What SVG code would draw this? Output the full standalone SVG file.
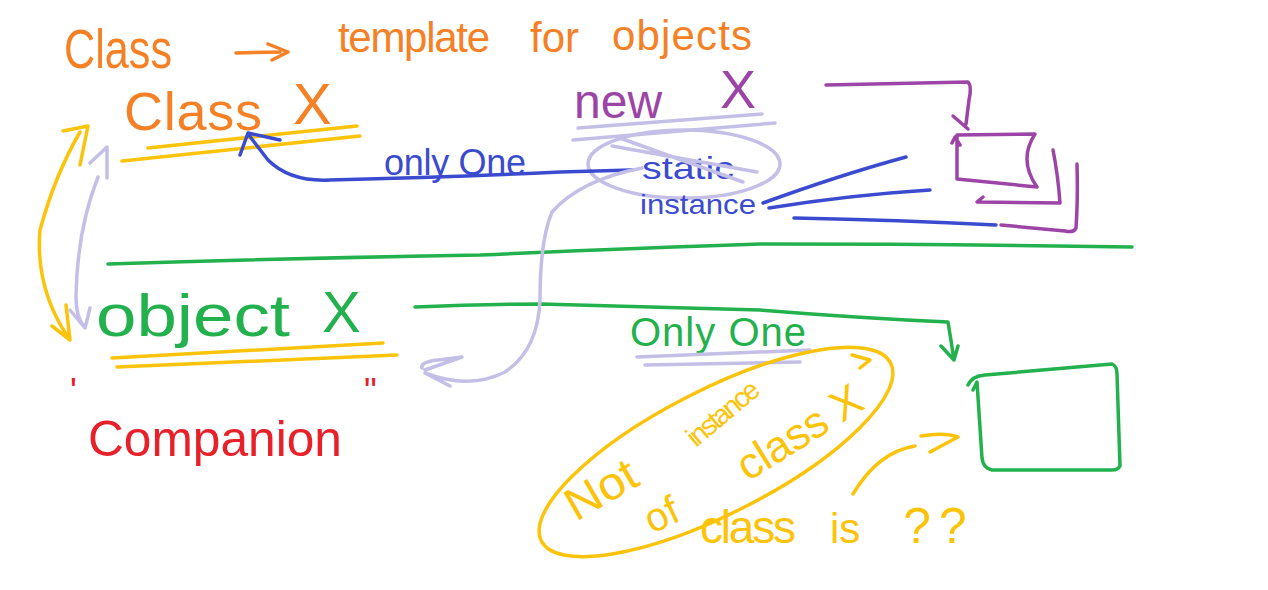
<svg xmlns="http://www.w3.org/2000/svg" width="1268" height="590" viewBox="0 0 1268 590">
<style>
text{font-family:"Liberation Sans","DejaVu Sans",sans-serif;}
.s{fill:none;stroke-linecap:round;stroke-linejoin:round;stroke-width:3.5}
.or{fill:#f58025}.ye{fill:#fcc30b}.bl{fill:#3b4bd0}.pu{fill:#9c45a6}.gr{fill:#22b14c}.re{fill:#e8202a}
.so{stroke:#f58025}.sy{stroke:#fcc30b}.sb{stroke:#3b4bd0}.sp{stroke:#9c45a6}.sg{stroke:#22b14c}.sl{stroke:#c4bfe6}
</style>
<rect width="1268" height="590" fill="#fff"/>

<g id="title">
<text class="or" x="64" y="68" font-size="56" textLength="108" lengthAdjust="spacingAndGlyphs">Class</text>
<path class="s so" d="M236 53 L280 52 M268 44 L288 52 L272 60"/>
<text class="or" x="338" y="52" font-size="42" textLength="152">template</text>
<text class="or" x="530" y="52" font-size="42">for</text>
<text class="or" x="612" y="50" font-size="42" textLength="140">objects</text>
</g>

<g id="class-x">
<text class="or" x="124" y="130" font-size="54" textLength="138">Class</text>
<text class="or" x="293" y="124" font-size="58">X</text>
<path class="s sy" d="M148 148 L357 126 M122 161 L360 136"/>
</g>

<g id="new-x">
<text class="pu" x="574" y="118" font-size="48">new</text>
<text class="pu" x="720" y="108" font-size="54">X</text>
<path class="s sl" d="M578 128 L762 114 M573 140 L775 123"/>
</g>

<g id="static-instance">
<ellipse class="s sl" cx="684" cy="164" rx="96" ry="34"/>
<text class="bl" x="642" y="179" font-size="32" textLength="92" lengthAdjust="spacingAndGlyphs">static</text>
<path class="s sl" d="M612 146 L757 172 M617 137 L743 182"/>
<text class="bl" x="640" y="214" font-size="28" textLength="116" lengthAdjust="spacingAndGlyphs">instance</text>
</g>

<g id="only-one-top">
<text class="bl" x="384" y="175" font-size="36" textLength="142">only One</text>
</g>

<g id="object-x">
<text class="gr" x="96" y="336" font-size="60" textLength="194" lengthAdjust="spacingAndGlyphs">object</text>
<text class="gr" x="322" y="332" font-size="58">X</text>
<path class="s sy" d="M112 358 L383 343 M117 367 L397 355"/>
</g>

<g id="companion">
<text class="re" x="70" y="404" font-size="36">'</text>
<text class="re" x="88" y="456" font-size="50" textLength="254" lengthAdjust="spacingAndGlyphs">Companion</text>
<text class="re" x="364" y="404" font-size="36">"</text>
</g>

<g id="only-one-bottom">
<text class="gr" x="630" y="346" font-size="40" textLength="176">Only One</text>
<path class="s sl" d="M637 357 L810 350 M645 365 L800 362"/>
</g>

<g id="purple-box">
<path class="s sp" d="M957 135 L1035 134 Q1018 160 1037 187 L957 179 Z M952 143 L955 137 L960 145"/>
</g>

<g id="green-box">
<path class="s sg" d="M968 385 Q972 376 985 375 L1112 364 Q1117 366 1117 374 L1120 466 Q1118 470 1112 470 L992 470 Q983 468 982 458 L977 382 L973 390"/>
</g>

<g id="note">
<ellipse class="s sy" cx="716" cy="452" rx="196" ry="62" transform="rotate(-27 716 452)"/>
<path class="s sy" d="M852 355 L870 360 L860 368"/>
<text class="ye" x="0" y="0" font-size="46" transform="translate(576 522) rotate(-30)" textLength="76" lengthAdjust="spacingAndGlyphs">Not</text>
<text class="ye" x="0" y="0" font-size="40" transform="translate(652 534) rotate(-25)">of</text>
<text class="ye" x="0" y="0" font-size="28" transform="translate(696 448) rotate(-40)" textLength="86">instance</text>
<text class="ye" x="0" y="0" font-size="44" transform="translate(748 482) rotate(-32)" textLength="140">class X</text>
<text class="ye" x="700" y="543" font-size="46" textLength="96">class</text>
<text class="ye" x="830" y="543" font-size="42">is</text>
<text class="ye" x="903" y="543" font-size="50" letter-spacing="8">??</text>
</g>

<g id="connectors">
<path class="s sb" d="M632 170 L560 172 Q450 177 330 180 Q290 182 268 160 L248 134 M240 155 L248 133 L280 140"/>
<path class="s sb" d="M763 203 Q840 175 906 157 M769 208 Q850 195 930 190 M794 218 Q900 220 996 225"/>
<path class="s sp" d="M826 85 L968 82 Q972 86 969 100 L966 124 M953 116 L968 129"/>
<path class="s sp" d="M1053 150 Q1058 175 1060 203 L977 202 L983 197 M1077 164 Q1078 200 1076 228 Q1074 233 1065 231 L1001 225"/>
<path class="s sg" d="M108 264 Q300 258 480 255 Q640 248 760 244 Q950 244 1132 247"/>
<path class="s sg" d="M415 307 Q480 304 541 304 L760 310 Q860 318 948 322 Q951 340 954 360 M941 346 L954 360 L958 346"/>
<path class="s sy" d="M80 132 Q55 175 40 230 Q35 290 70 340 M63 131 L88 126 L80 165 M52 326 L70 340 L66 305"/>
<path class="s sl" d="M98 177 Q77 230 76 297 Q76 318 85 328 M90 163 L107 147 L107 178 M70 310 L85 328 L90 308"/>
<path class="s sl" d="M642 168 Q580 180 552 212 Q540 240 540 300 Q538 350 505 372 Q470 390 425 373 M425 370 L462 357 L438 360 Q420 362 422 368 M425 373 L450 386"/>
<path class="s sy" d="M853 494 Q878 452 915 446 M921 436 Q945 432 958 437 L930 452"/>
</g>
</svg>
